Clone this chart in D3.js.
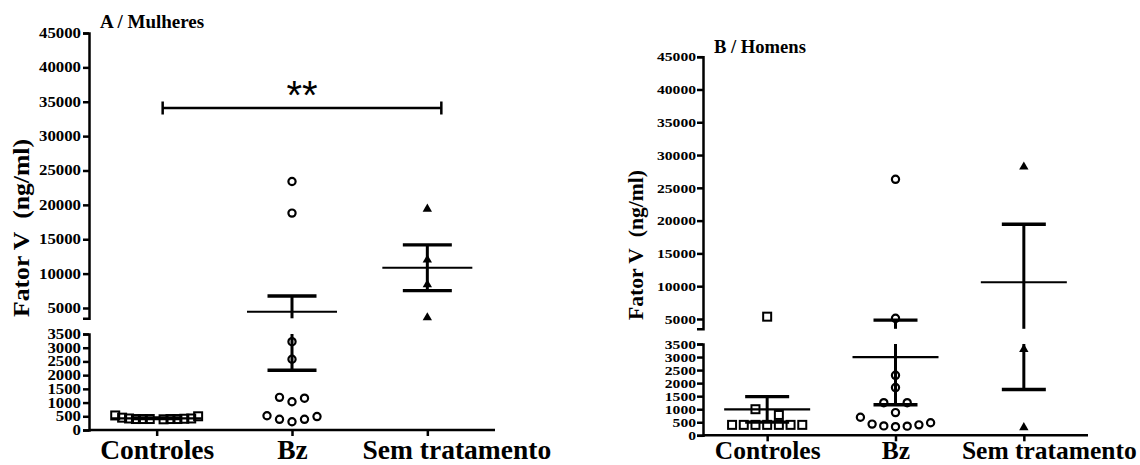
<!DOCTYPE html>
<html><head><meta charset="utf-8">
<script src="https://cdn.jsdelivr.net/npm/d3@7"></script>
<style>
body{margin:0;background:#fff}
svg{display:block}
text{font-family:"Liberation Serif","Times New Roman",serif;font-weight:bold;fill:#000}
</style>
</head><body>
<svg id="c" width="1140" height="465"></svg>
<script>
// ---------------- DATA ----------------
const categories = ["Controles", "Bz", "Sem tratamento"];
const upperTicks = [5000, 10000, 15000, 20000, 25000, 30000, 35000, 40000, 45000];
const lowerTicks = [0, 500, 1000, 1500, 2000, 2500, 3000, 3500];
const breakValue = 3500;
const maxValue = 45000;

const panelTitles = ["A / Mulheres", "B / Homens"];
const yAxisTitle = "Fator V\u00a0 (ng/ml)";

// Panel A – Mulheres
const mulheresControles = [530, 420, 400, 400, 390, 400, 410, 400, 400, 420, 500, 450];
const mulheresBz = [23400, 18800, 3220, 2580, 1160, 1030, 1190, 520, 390, 300, 390, 490];
const mulheresSemTratamento = [19400, 12000, 8400, 3600];

// Panel B – Homens
const homensControles = [5350, 1000, 780, 400, 400, 400, 400, 400, 400, 400];
const homensBz = [26300, 5100, 2300, 1830, 1250, 1250, 870, 690, 430, 350, 330, 360, 400, 480];
const homensSemTratamento = [28200, 3300, 300];

// significance annotation (panel A)
const sigLabel = "**";
const sigFrom = "Controles";
const sigTo = "Sem tratamento";
const sigValue = 34100;

const groupSymbols = ["square", "circle", "triangle"];

// ---------------- LAYOUT ----------------
const panels = [
  {title: panelTitles[0], groups: [mulheresControles, mulheresBz, mulheresSemTratamento],
   axisX: 89, xEnd: 495, xAxisY: 430, upperRange: [318.3, 33], lowerRange: [430, 334],
   tickFont: 14, tickPad: 2, tickStretch: 1.2,
   titleX: 100, titleY: 27.7, titleFont: 19,
   yTitleX: 29, yTitleY: 228, yTitleFont: 23, yTitleLen: 178,
   xLabelFont: 27.5, xLabelBaseline: 459, semOffset: 29,
   spacing: 12.5, maxW: 76, meanHalf: 45, capHalf: 24.5, sig: true},
  {title: panelTitles[1], groups: [homensControles, homensBz, homensSemTratamento],
   axisX: 703, xEnd: 1088, xAxisY: 435.3, upperRange: [328.8, 56.7], lowerRange: [435.3, 344],
   tickFont: 13, tickPad: 1, tickStretch: 1.2,
   titleX: 714, titleY: 52.7, titleFont: 18.6,
   yTitleX: 643, yTitleY: 245, yTitleFont: 20, yTitleLen: 150,
   xLabelFont: 25.5, xLabelBaseline: 459.5, semOffset: 25,
   spacing: 11.7, maxW: 72, meanHalf: 43, capHalf: 22, sig: false}
];

const svg = d3.select("#c");

function stretch(sel, f) {
  sel.each(function() {
    const w = this.getComputedTextLength();
    d3.select(this).attr("textLength", w * f).attr("lengthAdjust", "spacingAndGlyphs");
  });
}

function layoutRows(vals, yOf, T, spacing, maxW) {
  const pts = vals.map(v => ({v, y: yOf(v)})).sort((a, b) => b.y - a.y);
  const rows = [];
  pts.forEach(p => {
    const r = rows[rows.length - 1];
    if (r && r.y0 - p.y <= T) r.pts.push(p); else rows.push({y0: p.y, pts: [p]});
  });
  rows.forEach(r => {
    const n = r.pts.length;
    let slots;
    if (n === 1) slots = [0];
    else {
      const s = Math.min(spacing, maxW / (n - 1));
      if (n % 2 === 1) slots = d3.range(n).map(i => (i - (n - 1) / 2) * s);
      else slots = d3.range(n).map(i => { const k = Math.floor(i / 2) + 1; return (i % 2 === 0 ? k : -k) * s; });
      slots.sort((a, b) => Math.abs(a) - Math.abs(b) || b - a);
    }
    r.pts.slice().sort((a, b) => a.v - b.v).forEach((p, i) => p.dx = slots[i]);
  });
  return pts;
}

panels.forEach(P => {
  const g = svg.append("g");
  const yU = d3.scaleLinear().domain([breakValue, maxValue]).range(P.upperRange);
  const yL = d3.scaleLinear().domain([0, breakValue]).range(P.lowerRange);
  const yOf = v => v > breakValue ? yU(v) : yL(v);
  const x = d3.scalePoint().domain(categories).range([P.axisX, P.xEnd]).padding(0.5);

  // y axes (two segments)
  const axU = g.append("g").attr("transform", `translate(${P.axisX},0)`)
    .call(d3.axisLeft(yU).tickValues(upperTicks).tickSize(6).tickPadding(P.tickPad).tickFormat(d3.format("d")));
  const axL = g.append("g").attr("transform", `translate(${P.axisX},0)`)
    .call(d3.axisLeft(yL).tickValues(lowerTicks).tickSize(6).tickPadding(P.tickPad).tickFormat(d3.format("d")));
  [axU, axL].forEach(ax => {
    ax.selectAll("path,line").attr("stroke", "#000").attr("stroke-width", 2.5);
    ax.selectAll("text").attr("font-size", P.tickFont).attr("fill", "#000");
    ax.attr("font-family", null);
    stretch(ax.selectAll("text"), P.tickStretch);
  });

  // x axis
  const axX = g.append("g").attr("transform", `translate(0,${P.xAxisY})`)
    .call(d3.axisBottom(x).tickSizeInner(6).tickSizeOuter(0));
  axX.attr("font-family", null);
  axX.select(".domain").attr("d", `M${P.axisX},0H${P.xEnd}`).attr("stroke", "#000").attr("stroke-width", 2.5);
  axX.selectAll("line").attr("stroke", "#000").attr("stroke-width", 2.5);
  axX.selectAll("text").attr("font-size", P.xLabelFont).attr("fill", "#000")
    .attr("y", P.xLabelBaseline - P.xAxisY).attr("dy", 0)
    .attr("dx", d => d === "Sem tratamento" ? P.semOffset : 0);

  // titles
  g.append("text").attr("x", P.titleX).attr("y", P.titleY).attr("font-size", P.titleFont).text(P.title);
  g.append("text").attr("transform", `translate(${P.yTitleX},${P.yTitleY}) rotate(-90)`)
    .attr("text-anchor", "middle").attr("font-size", P.yTitleFont)
    .attr("textLength", P.yTitleLen).attr("lengthAdjust", "spacingAndGlyphs")
    .text(yAxisTitle);

  // points
  P.groups.forEach((vals, gi) => {
    const cx = x(categories[gi]);
    const pts = layoutRows(vals, yOf, 9.5, P.spacing, P.maxW);
    const sym = groupSymbols[gi];
    pts.forEach(p => {
      const px = cx + p.dx, py = p.y;
      if (sym === "circle") {
        g.append("circle").attr("cx", px).attr("cy", py).attr("r", 3.6)
          .attr("fill", "none").attr("stroke", "#000").attr("stroke-width", 2.2);
      } else if (sym === "square") {
        g.append("rect").attr("x", px - 4).attr("y", py - 4).attr("width", 8).attr("height", 8)
          .attr("fill", "none").attr("stroke", "#000").attr("stroke-width", 2);
      } else {
        g.append("path").attr("d", d3.symbol(d3.symbolTriangle, 38)())
          .attr("transform", `translate(${px},${py})`).attr("fill", "#000");
      }
    });
  });

  // mean ± SEM
  P.groups.forEach((vals, gi) => {
    const cx = x(categories[gi]);
    const m = d3.mean(vals);
    const sem = d3.deviation(vals) / Math.sqrt(vals.length);
    const lo = Math.max(0, m - sem), hi = m + sem;
    const segs = [];
    if (lo < breakValue) segs.push([yL(lo), yL(Math.min(hi, breakValue))]);
    if (hi > breakValue) segs.push([yU(Math.max(lo, breakValue)), yU(hi)]);
    segs.forEach(s => g.append("line").attr("x1", cx).attr("x2", cx).attr("y1", s[0]).attr("y2", s[1])
      .attr("stroke", "#000").attr("stroke-width", 3));
    [lo, hi].forEach(v => g.append("line").attr("x1", cx - P.capHalf).attr("x2", cx + P.capHalf)
      .attr("y1", yOf(v)).attr("y2", yOf(v)).attr("stroke", "#000").attr("stroke-width", 3.4));
    g.append("line").attr("x1", cx - P.meanHalf).attr("x2", cx + P.meanHalf)
      .attr("y1", yOf(m)).attr("y2", yOf(m)).attr("stroke", "#000").attr("stroke-width", 2.2);
  });

  // significance bracket
  if (P.sig) {
    const x1 = x(sigFrom) + 6, x2 = x(sigTo) + 14, yy = yU(sigValue);
    g.append("path").attr("d", `M${x1},${yy - 6.5}V${yy + 6.5}M${x1},${yy}H${x2}M${x2},${yy - 6.5}V${yy + 6.5}`)
      .attr("fill", "none").attr("stroke", "#000").attr("stroke-width", 2.5);
    g.append("text").attr("x", (x1 + x2) / 2).attr("y", yy + 1).attr("text-anchor", "middle")
      .style("font-family", "'Liberation Sans', Arial, sans-serif").style("font-weight", "normal")
      .attr("font-size", 40).text(sigLabel);
  }
});
</script>
</body></html>
